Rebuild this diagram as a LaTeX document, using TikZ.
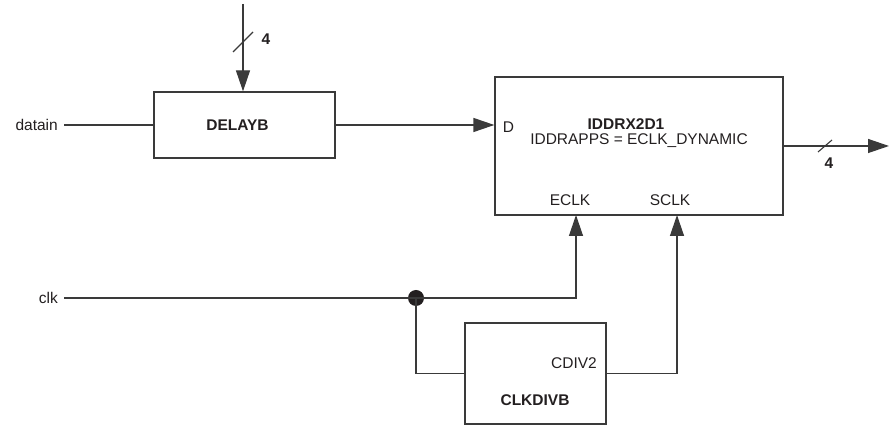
\documentclass[tikz,border=0pt]{standalone}
\usepackage{fontspec}
\setmainfont{Liberation Sans}
\usetikzlibrary{calc,arrows.meta,positioning}
\definecolor{ddrLine}{HTML}{3A3A3A}
\definecolor{ddrText}{HTML}{231F20}

\begin{document}
\begin{tikzpicture}[x=1pt, y=1pt,
    blk/.style={draw=ddrLine, line width=1.3pt, inner sep=0pt},
    lbl/.style={font=\fontsize{15.5}{18}\selectfont, text=ddrText, inner sep=0pt},
    blbl/.style={lbl, font=\fontsize{15.5}{18}\selectfont\bfseries},
    wire/.style={draw=ddrLine, line width=1.3pt},
    arr/.style={wire, -{Triangle[width=14pt, length=21pt]}},
    bus/.style={draw=ddrLine, line width=1.1pt},
    dot/.style={circle, fill=ddrText, inner sep=0pt, minimum size=16pt}
  ]
    \useasboundingbox (0,0) rectangle (895,425);
    % blocks
    \node[blk, minimum width=181pt, minimum height=66pt] (delayb) at (244.5,300) {};
    \node[blbl] at ($(delayb.center)+(-7,0)$) {DELAYB};
    \node[blk, minimum width=288pt, minimum height=138pt] (iddr) at (639,279) {};
    \node[lbl] (dpin) at ($(iddr.west)+(14,19)$) {D};
    \node[blbl] (iddrname) at ($(iddr.center)+(-13,22)$) {IDDRX2D1};
    \node[lbl] (iddrapps) at ($(iddr.center)+(0,5)$) {IDDRAPPS = ECLK\_DYNAMIC};
    \node[lbl] (eclk) at ($(iddr.center)+(-69,-54)$) {ECLK};
    \node[lbl] (sclk) at ($(iddr.center)+(31,-54)$) {SCLK};
    \node[blk, minimum width=141pt, minimum height=101pt] (clkdiv) at (535.5,51.5) {};
    \node[lbl] (cdiv) at ($(clkdiv.center)+(38.5,10.5)$) {CDIV2};
    \node[blbl] (clkdivname) at ($(clkdiv.center)+(-0.5,-26.5)$) {CLKDIVB};
    % ports
    \node[lbl, anchor=east] (datain) at (58,300) {datain};
    \node[lbl, anchor=east] (clk) at (58,127) {clk};
    \node[dot] (jn) at (416,127) {};
    \coordinate (dlyin) at (243,421);
    \coordinate (dout) at (889,279);
    \coordinate (eclkpin) at (576,210);
    \coordinate (sclkpin) at (677,210);
    % wires
    \draw[arr] (dlyin) -- (dlyin |- delayb.north);
    \draw[bus] ($(dlyin |- 0,383)+(-10,-10)$) -- ++(20,20);
    \node[blbl] at (266,386) {4};
    \draw[wire] ([xshift=6pt]datain.east) -- (delayb.west);
    \draw[arr] (delayb.east) -- (delayb.east -| iddr.west);
    \draw[arr] (iddr.east) -- (dout);
    \draw[bus] ($(825,279)+(-7,-6)$) -- ++(14,12);
    \node[blbl] at (829,262) {4};
    \draw[wire] ([xshift=6pt]clk.east) -- (jn.center);
    \draw[arr] (jn.center) -| (eclkpin);
    \draw[wire] (jn.center) |- (clkdiv.west);
    \draw[arr] (clkdiv.east) -| (sclkpin);
  \end{tikzpicture}
\end{document}
